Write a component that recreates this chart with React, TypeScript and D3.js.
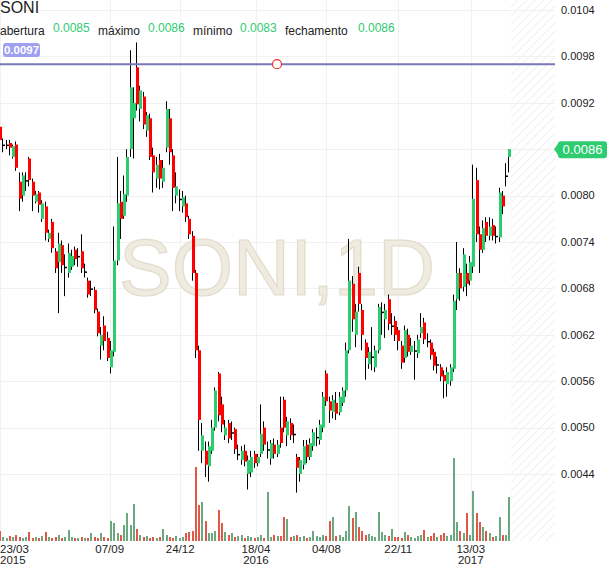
import * as d3 from "d3";

// prices are stored as price x 100000 (e.g. 860 = 0.0086)
const openE5 = [
  889, 866, 866, 868, 850, 866, 818, 800, 820, 848,
  818, 792, 804, 770, 786, 744, 766, 728, 714, 736,
  708, 700, 708, 730, 722, 728, 702, 690, 680, 678,
  650, 606, 632, 616, 578, 598, 716, 792, 774, 800,
  860, 900, 966, 912, 928, 884, 900, 852, 822, 846,
  818, 862, 900, 852, 800, 796, 786, 790, 770, 748,
  700, 600, 470, 470, 450, 470, 500, 570, 530, 490,
  506, 494, 498, 466, 458, 470, 440, 442, 466, 454,
  466, 500, 472, 460, 478, 466, 500, 536, 490, 506,
  492, 462, 440, 452, 478, 462, 476, 488, 484, 500,
  570, 534, 520, 532, 520, 532, 548, 600, 686, 620,
  700, 652, 610, 582, 592, 578, 600, 650, 640, 666,
  632, 638, 626, 606, 590, 620, 598, 600, 596, 622,
  636, 612, 610, 598, 582, 578, 568, 556, 560, 576,
  666, 700, 682, 700, 690, 708, 820, 750, 730, 766,
  748, 762, 748, 746, 800, 826, 850,
];
const highE5 = [
  891, 874, 872, 872, 866, 870, 830, 830, 830, 850,
  822, 806, 806, 794, 792, 756, 770, 732, 752, 742,
  724, 738, 730, 734, 732, 750, 712, 694, 690, 682,
  654, 630, 644, 624, 612, 760, 850, 806, 826, 860,
  988, 940, 998, 942, 934, 908, 906, 862, 850, 854,
  846, 922, 912, 860, 830, 808, 806, 800, 774, 754,
  704, 606, 506, 482, 482, 510, 552, 572, 540, 510,
  510, 508, 500, 478, 476, 478, 464, 470, 470, 466,
  530, 508, 482, 484, 486, 484, 540, 540, 514, 512,
  504, 466, 462, 484, 484, 486, 498, 500, 510, 546,
  574, 540, 542, 546, 546, 552, 610, 744, 696, 660,
  708, 660, 614, 604, 630, 606, 660, 662, 660, 672,
  648, 644, 630, 612, 632, 628, 616, 612, 620, 648,
  642, 622, 614, 602, 592, 582, 574, 578, 582, 672,
  740, 706, 732, 712, 722, 840, 836, 760, 768, 772,
  772, 770, 760, 810, 806, 842, 860,
];
const lowE5 = [
  868, 856, 860, 852, 848, 832, 780, 792, 806, 812,
  780, 790, 778, 766, 742, 740, 726, 700, 648, 700,
  670, 694, 704, 710, 708, 700, 694, 668, 670, 648,
  618, 588, 600, 586, 570, 592, 710, 744, 770, 792,
  850, 848, 910, 896, 886, 876, 846, 804, 810, 808,
  810, 856, 840, 780, 790, 780, 778, 766, 744, 690,
  590, 470, 454, 436, 430, 466, 496, 508, 494, 484,
  480, 484, 466, 458, 452, 450, 420, 436, 448, 450,
  462, 470, 460, 452, 460, 462, 474, 494, 476, 484,
  480, 416, 430, 446, 454, 458, 470, 476, 478, 494,
  528, 506, 512, 510, 516, 528, 540, 596, 624, 604,
  650, 600, 562, 576, 574, 572, 596, 620, 616, 626,
  620, 612, 600, 576, 584, 592, 594, 562, 590, 616,
  608, 604, 588, 574, 570, 560, 538, 540, 554, 572,
  652, 664, 676, 670, 684, 700, 740, 700, 726, 740,
  742, 742, 738, 740, 776, 812, 830,
];
const closeE5 = [
  872, 866, 866, 862, 864, 836, 796, 826, 820, 820,
  800, 802, 788, 790, 752, 752, 732, 706, 738, 710,
  708, 726, 722, 718, 722, 706, 702, 672, 680, 652,
  622, 620, 612, 590, 600, 716, 790, 770, 802, 850,
  940, 920, 918, 936, 892, 904, 850, 830, 840, 822,
  836, 912, 856, 810, 812, 796, 798, 772, 750, 700,
  600, 510, 490, 452, 476, 500, 548, 516, 504, 500,
  486, 494, 472, 466, 470, 456, 458, 462, 454, 462,
  492, 478, 472, 480, 466, 478, 480, 500, 508, 490,
  492, 448, 458, 476, 462, 480, 494, 488, 504, 540,
  534, 522, 536, 518, 540, 548, 600, 690, 640, 650,
  660, 620, 590, 598, 592, 600, 656, 650, 652, 634,
  632, 620, 612, 584, 626, 598, 606, 600, 614, 630,
  614, 612, 594, 580, 582, 566, 560, 572, 578, 664,
  700, 680, 724, 686, 714, 796, 750, 730, 758, 748,
  760, 748, 748, 804, 786, 826, 860,
];
// volume, millions of shares (approx.)
const volume = [
  10, 4, 3, 5, 4, 6, 4, 3, 4, 9,
  3, 4, 3, 5, 9, 4, 3, 4, 6, 3,
  4, 11, 4, 3, 3, 4, 3, 3, 8, 4,
  3, 8, 4, 3, 20, 18, 8, 6, 16, 28,
  16, 37, 12, 6, 4, 5, 3, 4, 3, 4,
  12, 6, 4, 3, 5, 3, 4, 8, 9, 10,
  74, 36, 39, 20, 8, 8, 10, 31, 18, 9,
  6, 8, 4, 5, 6, 3, 5, 4, 3, 4,
  6, 3, 49, 4, 6, 5, 5, 24, 22, 4,
  5, 6, 4, 5, 3, 4, 10, 5, 4, 6,
  5, 20, 24, 5, 6, 4, 10, 35, 23, 29,
  14, 10, 6, 7, 5, 4, 29, 9, 6, 5,
  12, 4, 4, 3, 9, 6, 4, 3, 5, 6,
  11, 4, 5, 8, 4, 6, 8, 5, 6, 83,
  19, 10, 8, 28, 6, 50, 28, 19, 14, 10,
  8, 4, 5, 24, 6, 6, 44,
];

const firstDate = new Date(2015, 2, 23);
const stepDays = 5;
const candleDates = openE5.map((_, i) => d3.timeDay.offset(firstDate, i * stepDays));

const xTickDates = [
  new Date(2015, 2, 23), new Date(2015, 8, 7), new Date(2015, 11, 24),
  new Date(2016, 3, 18), new Date(2016, 7, 4), new Date(2016, 10, 22), new Date(2017, 2, 13),
];
const xTickLabels = ["23/03", "07/09", "24/12", "18/04", "04/08", "22/11", "13/03"];
const xTickYears = ["2015", "", "", "2016", "", "", "2017"];

const yTickValues = [0.0044, 0.005, 0.0056, 0.0062, 0.0068, 0.0074, 0.008, 0.0086, 0.0092, 0.0098, 0.0104];

const symbol = "SONI";
const interval = "1D";
const legendLabels = ["abertura", "máximo", "mínimo", "fechamento"];
const legendValues = [0.0085, 0.0086, 0.0083, 0.0086];
const markerLine = 0.0097;
const lastPrice = 0.0086;

const GREEN = "#2ecc71";
const RED = "#ff0000";
const VOL_GREEN = "#6aa882";
const VOL_RED = "#de5a46";
const FONT = "Arial, 'Liberation Sans', sans-serif";

export default function App() {
  const width = 610;
  const height = 568;
  const plotRight = 555;
  const plotBottom = 541;

  const x = d3.scaleTime().domain([new Date(2015, 2, 23), new Date(2017, 6, 20)]).range([0, plotRight]);
  const y = d3.scaleLinear().domain([0.0044, 0.0104]).range([474, 10]);
  const yVol = d3.scaleLinear().domain([0, 100]).range([plotBottom, plotBottom - 100]);
  const fmt = (v: number) => v.toFixed(4);

  const candles = openE5.map((o, i) => ({
    date: candleDates[i],
    open: o / 1e5,
    high: highE5[i] / 1e5,
    low: lowE5[i] / 1e5,
    close: closeE5[i] / 1e5,
    vol: volume[i],
  }));

  const hatchStart = Math.round(x(candleDates[candleDates.length - 1])) + 2;
  const legendLabelX = [0, 98, 193, 285];
  const legendValueX = [53, 148, 240, 358];
  const tagY = y(lastPrice);

  return (
    <svg
      width={width}
      height={height}
      style={{ position: "absolute", left: 0, top: 0, background: "#fff" }}
      fontFamily={FONT}
    >
      <defs>
        <pattern id="hatch" width="6" height="6" patternUnits="userSpaceOnUse" patternTransform="rotate(45)">
          <line x1="0" y1="0" x2="0" y2="6" stroke="#ebebeb" strokeWidth="1.5" />
        </pattern>
      </defs>

      {/* future area */}
      <rect x={hatchStart} y={0} width={plotRight - hatchStart} height={plotBottom} fill="url(#hatch)" />

      {/* grid */}
      {yTickValues.map((v) => (
        <line key={"gy" + v} x1={0} x2={plotRight} y1={Math.round(y(v)) + 0.5} y2={Math.round(y(v)) + 0.5} stroke="#f1f1f1" />
      ))}
      {xTickDates.map((d, i) => (
        <line key={"gx" + i} x1={Math.round(x(d)) + 0.5} x2={Math.round(x(d)) + 0.5} y1={0} y2={plotBottom} stroke="#f1f1f1" />
      ))}

      {/* watermark */}
      <text x={277} y={295} textAnchor="middle" fontSize={79} fill="#efebe1" stroke="#e2dccb" strokeWidth={1.2}>
        {symbol},{interval}
      </text>

      {/* volume */}
      {candles.map((c, i) => {
        const cx = Math.round(x(c.date));
        return (
          <rect
            key={"v" + i}
            x={cx - 1}
            y={yVol(c.vol)}
            width={2}
            height={plotBottom - yVol(c.vol)}
            fill={c.close < c.open ? VOL_RED : VOL_GREEN}
          />
        );
      })}

      {/* candles */}
      {candles.map((c, i) => {
        const cx = Math.round(x(c.date));
        const top = y(Math.max(c.open, c.close));
        const bot = y(Math.min(c.open, c.close));
        const color = c.close > c.open ? GREEN : c.close < c.open ? RED : "#000";
        return (
          <g key={"c" + i}>
            <rect x={cx - 1} y={y(c.high)} width={1} height={y(c.low) - y(c.high)} fill="#000" />
            <rect x={cx - 1} y={top} width={3} height={Math.max(1.5, bot - top)} fill={color} />
          </g>
        );
      })}

      {/* marker line */}
      <line x1={0} x2={plotRight} y1={y(markerLine)} y2={y(markerLine)} stroke="#7878b9" strokeWidth={2} />
      <circle cx={277} cy={y(markerLine)} r={4.5} fill="#fff" stroke="#f03030" strokeWidth={1.2} />
      <rect x={3} y={43} width={37} height={14} rx={3} fill="#a0a0f0" />
      <text x={21.5} y={54} textAnchor="middle" fontSize={11.5} fontWeight="bold" fill="#fff">
        {fmt(markerLine)}
      </text>

      {/* y axis; the tick under the last-price tag is hidden by it */}
      {yTickValues
        .filter((v) => Math.abs(y(v) - tagY) > 10)
        .map((v) => (
          <text key={"ty" + v} x={561} y={y(v)} dy="0.35em" fontSize={11} fill="#222">
            {fmt(v)}
          </text>
        ))}
      <path d={`M${plotRight - 1},${tagY} L${plotRight + 4},${tagY - 7} L${plotRight + 4},${tagY + 7} Z`} fill={GREEN} />
      <rect x={plotRight + 3} y={tagY - 8} width={49} height={17} rx={3} fill={GREEN} />
      <text x={plotRight + 27.5} y={tagY} dy="0.36em" textAnchor="middle" fontSize={13} fill="#fff">
        {fmt(lastPrice)}
      </text>

      {/* x axis */}
      {xTickDates.map((d, i) => {
        const px = x(d);
        const anchor = px < 15 ? "start" : "middle";
        const tx = px < 15 ? 0 : px;
        return (
          <g key={"tx" + i}>
            <text x={tx} y={553} textAnchor={anchor} fontSize={11.5} fill="#222">
              {xTickLabels[i]}
            </text>
            {xTickYears[i] && (
              <text x={tx} y={564} textAnchor={anchor} fontSize={11.5} fill="#222">
                {xTickYears[i]}
              </text>
            )}
          </g>
        );
      })}

      {/* header */}
      <text x={0} y={13} fontSize={16} fill="#222">
        {symbol}
      </text>
      {legendLabels.map((l, i) => (
        <g key={"lg" + i}>
          <text x={legendLabelX[i]} y={35} fontSize={12} fill="#222">
            {l}
          </text>
          <text x={legendValueX[i]} y={32} fontSize={12} fill={GREEN}>
            {fmt(legendValues[i])}
          </text>
        </g>
      ))}
    </svg>
  );
}
